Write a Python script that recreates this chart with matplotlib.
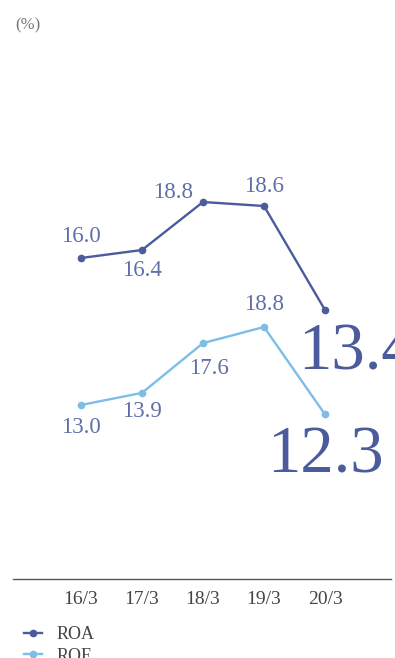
import matplotlib.pyplot as plt

plt.rcParams['font.family'] = ['Liberation Serif', 'DejaVu Serif']

# データ
years = ["16/3", "17/3", "18/3", "19/3", "20/3"]
roa = [16.0, 16.4, 18.8, 18.6, 13.4]
roe = [13.0, 13.9, 17.6, 18.8, 12.3]

roa_color = "#4b5b9c"
roe_color = "#7dbde6"
label_color = "#5f6ea8"

fig = plt.figure(figsize=(3.95, 6.58), dpi=100)
ax = fig.add_axes([13 / 395, 79 / 658, 378 / 395, 539 / 658])
ax2 = ax.twinx()

x = list(range(len(years)))
l1, = ax.plot(x, roa, color=roa_color, lw=1.7, marker="o", ms=4.5, label="ROA")
l2, = ax2.plot(x, roe, color=roe_color, lw=1.7, marker="o", ms=4.5, label="ROE")

ax.set_xlim(-1.115, 5.082)
ax.set_ylim(-0.05, 26.9)
ax2.set_ylim(0.06, 40.14)

# ラベル位置 (px -> pt)
k = 0.72
roa_off = [(0, 22), (0, -20), (-30, 9), (0, 20)]
roe_off = [(0, -23), (0, -19), (6, -25), (0, 22)]
for i in range(4):
    ax.annotate(f"{roa[i]:.1f}", (x[i], roa[i]), xytext=(roa_off[i][0] * k, roa_off[i][1] * k),
                textcoords="offset points", ha="center", va="center",
                fontsize=16.5, color=label_color)
    ax2.annotate(f"{roe[i]:.1f}", (x[i], roe[i]), xytext=(roe_off[i][0] * k, roe_off[i][1] * k),
                 textcoords="offset points", ha="center", va="center",
                 fontsize=16.5, color=label_color)

ax.annotate(f"{roa[4]:.1f}", (x[4], roa[4]), xytext=(-27 * k, -43 * k),
            textcoords="offset points", ha="left", va="center",
            fontsize=48, color=roa_color, annotation_clip=False)
ax2.annotate(f"{roe[4]:.1f}", (x[4], roe[4]), xytext=(0, -42 * k),
             textcoords="offset points", ha="center", va="center",
             fontsize=48, color=roa_color)

for a in (ax, ax2):
    for s in ("top", "right", "left"):
        a.spines[s].set_visible(False)
    a.set_yticks([])
ax2.spines["bottom"].set_visible(False)
ax.spines["bottom"].set_color("#555555")
ax.spines["bottom"].set_linewidth(1)
ax.set_xticks(x)
ax.set_xticklabels(years, fontsize=14, color="#444444")
ax.tick_params(axis="x", length=0, pad=9)

fig.text(15 / 395, 1 - 25 / 658, "(%)", fontsize=12, color="#777777", va="center")

fig.legend(handles=[l1, l2], loc="upper left", bbox_to_anchor=(0.02, 1 - 610 / 658),
           frameon=False, fontsize=13, handlelength=1.0, handletextpad=0.8,
           labelspacing=0.25, labelcolor="#444444")

fig.savefig("out.png", dpi=100)
